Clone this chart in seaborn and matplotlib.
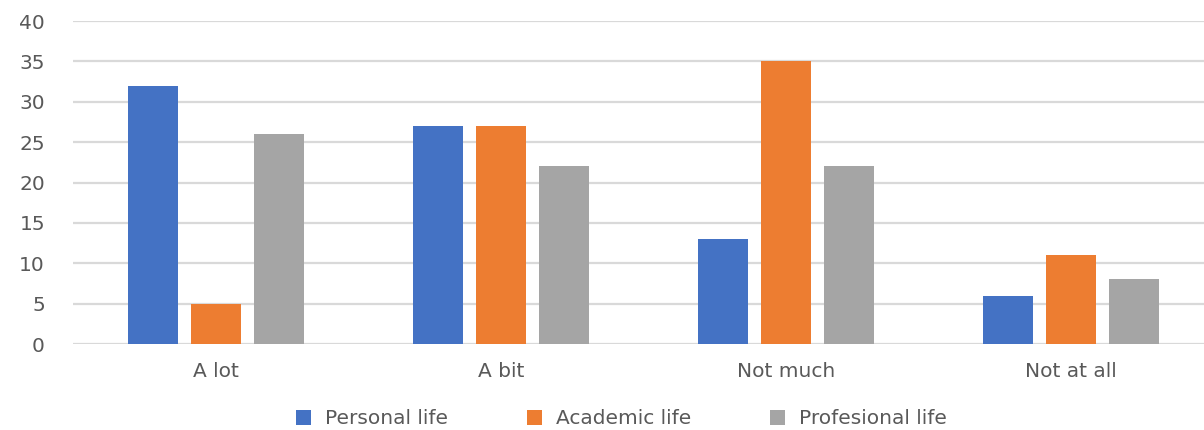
import matplotlib
matplotlib.use("Agg")
import matplotlib.pyplot as plt
import seaborn as sns
import pandas as pd

categories = ["A lot", "A bit", "Not much", "Not at all"]
series_names = ["Personal life", "Academic life", "Profesional life"]
personal = [32, 27, 13, 6]
academic = [5, 27, 35, 11]
professional = [26, 22, 22, 8]
y_ticks = [0, 5, 10, 15, 20, 25, 30, 35, 40]

colors = ["#4472C4", "#ED7D31", "#A5A5A5"]
text_color = "#595959"
grid_color = "#D9D9D9"

rows = []
for name, vals in zip(series_names, [personal, academic, professional]):
    for cat, v in zip(categories, vals):
        rows.append({"category": cat, "series": name, "value": v})
df = pd.DataFrame(rows)

sns.set_theme(style="white")
plt.rcParams["font.family"] = ["DejaVu Sans"]

fig = plt.figure(figsize=(12.04, 4.30), dpi=100)
ax = fig.add_axes([0.061, 0.2, 0.947, 0.751])

sns.barplot(data=df, x="category", y="value", hue="series",
            order=categories, hue_order=series_names,
            palette=colors, width=0.663, gap=0.2, saturation=1,
            linewidth=0, legend=True, ax=ax, zorder=3)

ax.set_ylim(0, 40)
ax.set_yticks(y_ticks)
ax.set_xlim(-0.5, len(categories) - 0.5)
ax.grid(axis="y", color=grid_color, linewidth=1.6, zorder=0)
ax.set_axisbelow(True)
for s in ax.spines.values():
    s.set_visible(False)
ax.tick_params(axis="both", length=0, colors=text_color, labelsize=14.5)
ax.tick_params(axis="y", pad=20.5)
ax.tick_params(axis="x", pad=13)
ax.set_xlabel("")
ax.set_ylabel("")

handles, labels = ax.get_legend_handles_labels()
ax.legend_.remove()
leg = fig.legend(handles, labels, loc="center", bbox_to_anchor=(0.516, 0.026),
                 ncol=3, frameon=False, fontsize=14.5, handlelength=0.75,
                 handleheight=0.75, handletextpad=0.7, columnspacing=3.9)
for t in leg.get_texts():
    t.set_color(text_color)

fig.savefig("out.png", dpi=100)
